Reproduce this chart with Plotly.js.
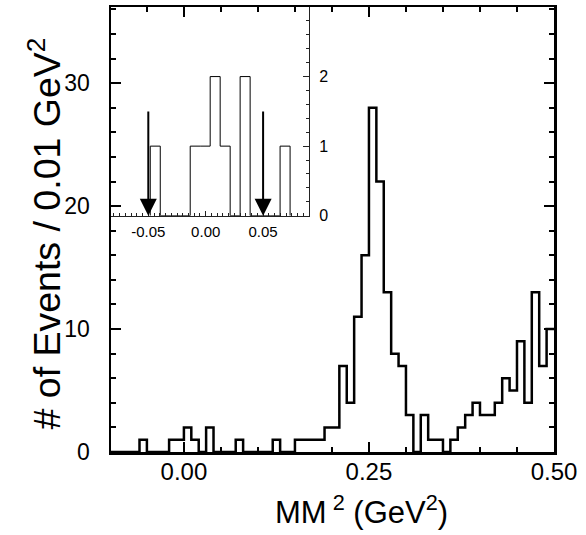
<!DOCTYPE html>
<html>
<head>
<meta charset="utf-8">
<script src="https://cdn.plot.ly/plotly-3.0.1.min.js"></script>
<style>html,body{margin:0;padding:0;background:#fff;}#chart{width:586px;height:535px;}</style>
</head>
<body>
<div id="chart"></div>
<script>
// Main histogram: MM^2 in 0.01 GeV^2 bins starting at -0.10
const mmBinStart = -0.10;
const mmBinWidth = 0.01;
const mmCounts = [0,0,0,0,1,0,0,0,1,1, 2,1,0,2,0,0,0,1,0,0,
                  0,0,1,0,0,1,1,1,1,2, 2,7,4,11,16,28,22,13,8,7,
                  3,0,3,1,1,0,1,2,3,4, 3,3,4,6,5,9,4,13,7,10];
// Inset histogram
const insetBinStart = -0.0483;
const insetBinWidth = 0.0087;
const insetCounts = [1,0,0,0,1,1,2,1,0,2,0,0,0,1];
// Cut positions (arrows in inset)
const cuts = [-0.05, 0.05];
// Tick labels
const mainXTicks = [0.00, 0.25, 0.50];
const mainXTickText = ['0.00', '0.25', '0.50'];
const mainYTicks = [0, 10, 20, 30];
const insetXTicks = [-0.05, 0.00, 0.05];
const insetXTickText = ['-0.05', '0.00', '0.05'];
const insetYTicks = [0, 1, 2];

function stepMain(start, width, counts) {
  const x = [], y = [];
  for (let i = 0; i <= counts.length; i++) {
    x.push(start + i * width);
    y.push(i < counts.length ? counts[i] : counts[counts.length - 1]);
  }
  return {x, y};
}
function stepClosed(start, width, counts) {
  const x = [start], y = [0];
  for (let i = 0; i <= counts.length; i++) {
    x.push(start + i * width);
    y.push(i < counts.length ? counts[i] : 0);
  }
  return {x, y};
}

const m = stepMain(mmBinStart, mmBinWidth, mmCounts);
const ins = stepClosed(insetBinStart, insetBinWidth, insetCounts);

const sans = 'Liberation Sans, Arial, sans-serif';

const traces = [
  {x: m.x, y: m.y, type: 'scatter', mode: 'lines', line: {shape: 'hv', color: '#000', width: 2.5},
   xaxis: 'x', yaxis: 'y', hoverinfo: 'skip', showlegend: false},
  {x: ins.x, y: ins.y, type: 'scatter', mode: 'lines', line: {shape: 'hv', color: '#000', width: 1},
   xaxis: 'x2', yaxis: 'y2', hoverinfo: 'skip', showlegend: false}
];

const annotations = cuts.map(c => ({
  x: c, y: 0, xref: 'x2', yref: 'y2', ax: c, ay: 1.52, axref: 'x2', ayref: 'y2',
  text: '', showarrow: true, arrowhead: 2, arrowsize: 1.7, arrowwidth: 2, arrowcolor: '#000', standoff: 0
}));
annotations.push({
  text: '# of Events / 0.01 GeV<sup>2</sup>', xref: 'paper', yref: 'paper',
  x: -0.15, y: 0.49, xanchor: 'center', yanchor: 'middle', textangle: -90, showarrow: false,
  font: {family: sans, size: 37.5, color: '#000'}
});
annotations.push({
  text: 'MM<sup> 2</sup> (GeV<sup>2</sup>)', xref: 'paper', yref: 'paper',
  x: 0.566, y: -0.13, xanchor: 'center', yanchor: 'middle', showarrow: false,
  font: {family: sans, size: 31, color: '#000'}
});

const layout = {
  width: 586, height: 535,
  margin: {l: 111, r: 32, t: 7, b: 83, pad: 0},
  paper_bgcolor: '#fff', plot_bgcolor: 'rgba(0,0,0,0)',
  showlegend: false,
  xaxis: {
    domain: [0, 1], range: [-0.0985, 0.5], anchor: 'y',
    showline: true, linecolor: '#000', linewidth: 2.5, mirror: 'ticks',
    showgrid: false, zeroline: false,
    ticks: 'inside', ticklen: 10, tickwidth: 2, tickcolor: '#000',
    tickvals: mainXTicks, ticktext: mainXTickText, ticklabelstandoff: -3,
    minor: {dtick: 0.05, tick0: 0, ticks: 'inside', ticklen: 5, tickwidth: 2, tickcolor: '#000', showgrid: false},
    tickfont: {family: sans, size: 24, color: '#000'}
  },
  yaxis: {
    domain: [0, 1], range: [0, 36.2], anchor: 'x',
    showline: true, linecolor: '#000', linewidth: 2.5, mirror: 'ticks',
    showgrid: false, zeroline: false,
    ticks: 'inside', ticklen: 10, tickwidth: 2, tickcolor: '#000',
    tickvals: mainYTicks, ticklabelstandoff: 14,
    minor: {dtick: 2, tick0: 0, ticks: 'inside', ticklen: 5, tickwidth: 2, tickcolor: '#000', showgrid: false},
    tickfont: {family: sans, size: 23, color: '#000'}
  },
  xaxis2: {
    domain: [0, 0.447], range: [-0.0825, 0.09], anchor: 'y2',
    showline: true, linecolor: '#222', linewidth: 1,
    showgrid: false, zeroline: false,
    ticks: 'inside', ticklen: 5, tickwidth: 1, tickcolor: '#222',
    tickvals: insetXTicks, ticktext: insetXTickText, ticklabelstandoff: 2,
    minor: {dtick: 0.005, tick0: 0, ticks: 'inside', ticklen: 3, tickwidth: 1, tickcolor: '#222', showgrid: false},
    tickfont: {family: sans, size: 15, color: '#000'}
  },
  yaxis2: {
    domain: [0.531, 1], range: [0, 3], anchor: 'x2', side: 'right',
    showline: true, linecolor: '#222', linewidth: 1,
    showgrid: false, zeroline: false,
    ticks: 'inside', ticklen: 6, tickwidth: 1, tickcolor: '#222',
    tickvals: insetYTicks, ticklabelstandoff: 6,
    minor: {dtick: 0.2, tick0: 0, ticks: 'inside', ticklen: 3, tickwidth: 1, tickcolor: '#222', showgrid: false},
    tickfont: {family: sans, size: 16, color: '#000'}
  },
  annotations: annotations
};

Plotly.newPlot('chart', traces, layout, {staticPlot: true, displayModeBar: false});
</script>
</body>
</html>
